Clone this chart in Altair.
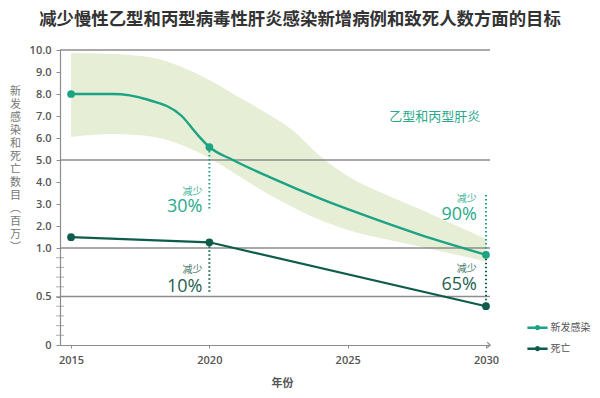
import altair as alt
import pandas as pd

TITLE = "减少慢性乙型和丙型病毒性肝炎感染新增病例和致死人数方面的目标"
SERIES = ["新发感染", "死亡"]
COLORS = ["#1ba384", "#0e5c4b"]
TEXT_COLORS = ["#2aa98c", "#1f5f50"]
BAND_COLOR = "#e6efd6"
GRID = "#8c8c8c"
TXT = "#555555"
CJK = "Noto Sans CJK SC"

# new infections curve
inf_years = [2015, 2016.5, 2017.75, 2019, 2019.55, 2020, 2020.85, 2022.2, 2024.1, 2025.45, 2027.6, 2030]
inf_vals = [8.0, 8.0, 7.75, 7.0, 6.18, 5.59, 5.0, 4.21, 3.20, 2.56, 1.61, 0.93]
# deaths
death_years = [2015, 2020, 2030]
death_vals = [1.49, 1.26, 0.40]
# dots
dot_years = [2015, 2020, 2030]
inf_dot_vals = [8.0, 5.59, 0.93]
death_dot_vals = [1.49, 1.26, 0.40]
# uncertainty band for new infections
band_years = [2015, 2016.5, 2018, 2019, 2020, 2021, 2022, 2023, 2024, 2025, 2026.5, 2028, 2030]
band_hi = [9.86, 9.82, 9.64, 9.23, 8.64, 7.91, 7.18, 6.36, 5.18, 4.27, 3.36, 2.55, 1.41]
band_lo = [6.05, 6.18, 6.05, 5.68, 5.09, 4.32, 3.55, 2.86, 2.27, 1.82, 1.36, 0.99, 0.86]

# axes
x_ticks = [2015, 2020, 2025, 2030]
y_ticks = [0, 0.5, 1, 2, 3, 4, 5, 6, 7, 8, 9, 10]
minor_ticks = [0.1, 0.2, 0.3, 0.4, 0.5, 0.6, 0.7, 0.8, 0.9]
grid_vals = [0.5, 1.0, 5.0, 10.0]
y_title = ["新", "发", "感", "染", "和", "死", "亡", "数", "目", "︵", "百", "万", "︶"]
x_title = "年份"

# dotted guides
guide_x = [2020, 2020, 2030, 2030]
guide_top = [5.59, 1.26, 3.41, 0.93]
guide_bot = [2.68, 0.55, 0.93, 0.40]
guide_series = [SERIES[0], SERIES[1], SERIES[0], SERIES[1]]

# annotations
ann_x = [2019.75, 2019.75, 2029.67, 2029.67]
ann_small_y = [3.56, 0.77, 3.22, 0.78]
ann_big_y = [2.86, 0.60, 2.52, 0.62]
ann_small = ["减少", "减少", "减少", "减少"]
ann_big = ["30%", "10%", "90%", "65%"]
ann_series = [SERIES[0], SERIES[1], SERIES[0], SERIES[1]]
label_text = ["乙型和丙型肝炎"]
label_x = [2028.15]
label_y = [6.95]

X_DOMAIN = [2014.6, 2030.145]
X_SCALE = alt.Scale(domain=X_DOMAIN, nice=False, zero=False)
Y_SCALE = alt.Scale(domain=[0, 1, 10], range=[295, 198, 0], nice=False, zero=False)

X_AXIS = alt.Axis(values=x_ticks, format="d", grid=False, domainColor=GRID, domainWidth=1.2,
                  tickColor=GRID, tickSize=3, labelFont="Open Sans", labelFontSize=11,
                  labelFontWeight=600, labelColor=TXT, labelPadding=6,
                  title=x_title, titleFont=CJK, titleFontSize=11, titleFontWeight="bold",
                  titleColor=TXT, titleX=222, titleY=38, titleBaseline="middle",
                  titleAlign="center")
Y_AXIS = alt.Axis(values=y_ticks,
                  labelExpr="datum.value == 0 ? '0' : format(datum.value, '.1f')",
                  grid=False, domainColor=GRID, domainWidth=1.2, tickColor=GRID, tickSize=4,
                  labelFont="Open Sans", labelFontSize=11, labelFontWeight=600,
                  labelColor=TXT, labelPadding=5,
                  title=y_title, titleAngle=0, titleX=-45, titleY=35, titleAlign="center",
                  titleBaseline="top", titleLineHeight=13, titleFontSize=11,
                  titleFont=CJK, titleFontWeight="normal", titleColor="#777777")


def X(field):
    return alt.X(field, type="quantitative", scale=X_SCALE, axis=X_AXIS)


def Y(field):
    return alt.Y(field, type="quantitative", scale=Y_SCALE, axis=Y_AXIS)


band_df = pd.DataFrame({"year": band_years, "v": band_hi, "lo": band_lo})
line_df = pd.DataFrame({"year": inf_years, "v": inf_vals, "s": SERIES[0]})
death_df = pd.DataFrame({"year": death_years, "v": death_vals, "s": SERIES[1]})
dots_df = pd.DataFrame({
    "year": dot_years + dot_years,
    "v": inf_dot_vals + death_dot_vals,
    "s": [SERIES[0]] * 3 + [SERIES[1]] * 3,
})
grid_df = pd.DataFrame({"v": grid_vals})
minor_df = pd.DataFrame({"v": minor_ticks, "year": [X_DOMAIN[0]] * len(minor_ticks)})
guide_df = pd.DataFrame({"year": guide_x, "v": guide_top, "v2": guide_bot, "s": guide_series})
ann_df = pd.DataFrame({"year": ann_x, "ys": ann_small_y, "yb": ann_big_y,
                       "small": ann_small, "big": ann_big, "s": ann_series})
label_df = pd.DataFrame({"year": label_x, "v": label_y, "t": label_text})
arrow_df = pd.DataFrame({"year": [X_DOMAIN[1]], "v": [0]})

COLOR = alt.Color("s:N", scale=alt.Scale(domain=SERIES, range=COLORS),
                  legend=alt.Legend(orient="none", legendX=469.5, legendY=269.7, title=None,
                                    padding=0,
                                    symbolType="M-1.6,0H1.6M0.22,0A0.22,0.22,0,1,1,-0.22,0A0.22,0.22,0,1,1,0.22,0M0.08,0A0.08,0.08,0,1,1,-0.08,0A0.08,0.08,0,1,1,0.08,0",
                                    symbolSize=160, symbolStrokeWidth=2.4,
                                    labelFont=CJK, labelFontSize=10, labelColor=TXT,
                                    labelOffset=5, rowPadding=6))

band = alt.Chart(band_df).mark_area(color=BAND_COLOR, interpolate="monotone").encode(
    x=X("year"), y=Y("v"), y2="lo:Q")

grid = alt.Chart(grid_df).mark_rule(color=GRID, strokeWidth=1.3).encode(y=Y("v"))

minor = alt.Chart(minor_df).mark_tick(orient="horizontal", color=GRID, size=8, thickness=1).encode(
    x=X("year"), y=Y("v"))

arrow = alt.Chart(arrow_df).mark_point(shape="M-1,-1L0,0L-1,1", filled=False, size=30,
                                       color=GRID, strokeWidth=1.2, opacity=1).encode(
    x=X("year"), y=Y("v"))

inf_line = alt.Chart(line_df).mark_line(interpolate="monotone", strokeWidth=2.4).encode(
    x=X("year"), y=Y("v"), color=COLOR)
death_line = alt.Chart(death_df).mark_line(strokeWidth=2.2).encode(
    x=X("year"), y=Y("v"), color=COLOR)

layers = [band, grid, minor, arrow]
for name, col, tcol in zip(SERIES, COLORS, TEXT_COLORS):
    layers.append(
        alt.Chart(guide_df).transform_filter(alt.datum.s == name)
        .mark_rule(color=col, strokeWidth=2, strokeDash=[1.5, 2.5])
        .encode(x=X("year"), y=Y("v"), y2="v2:Q"))
layers += [inf_line, death_line]
for name, col, tcol in zip(SERIES, COLORS, TEXT_COLORS):
    layers.append(
        alt.Chart(dots_df).transform_filter(alt.datum.s == name)
        .mark_circle(color=col, size=60, opacity=1)
        .encode(x=X("year"), y=Y("v")))
    layers.append(
        alt.Chart(ann_df).transform_filter(alt.datum.s == name)
        .mark_text(color=tcol, font=CJK, fontSize=10, align="right", baseline="middle", opacity=0.85)
        .encode(x=X("year"), y=Y("ys"), text="small:N"))
    layers.append(
        alt.Chart(ann_df).transform_filter(alt.datum.s == name)
        .mark_text(color=tcol, font="Open Sans", fontSize=18, align="right", baseline="middle")
        .encode(x=X("year"), y=Y("yb"), text="big:N"))

layers.append(
    alt.Chart(label_df).mark_text(color=TEXT_COLORS[0], font=CJK, fontSize=13, align="center",
                                  baseline="middle")
    .encode(x=X("year"), y=Y("v"), text="t:N"))

chart = alt.layer(*layers).properties(
    width=430, height=295,
    padding={"left": 52, "top": 42, "right": 102, "bottom": 45},
    autosize=alt.AutoSizeParams(type="none"),
    title=alt.TitleParams(TITLE, fontSize=17.4, font=CJK, fontWeight="bold", color="#333333",
                          anchor="middle", dx=25, offset=16, frame="group"),
    background="white",
).configure_view(stroke=None)

chart.save("out.html", embed_options={"renderer": "svg", "actions": False})
